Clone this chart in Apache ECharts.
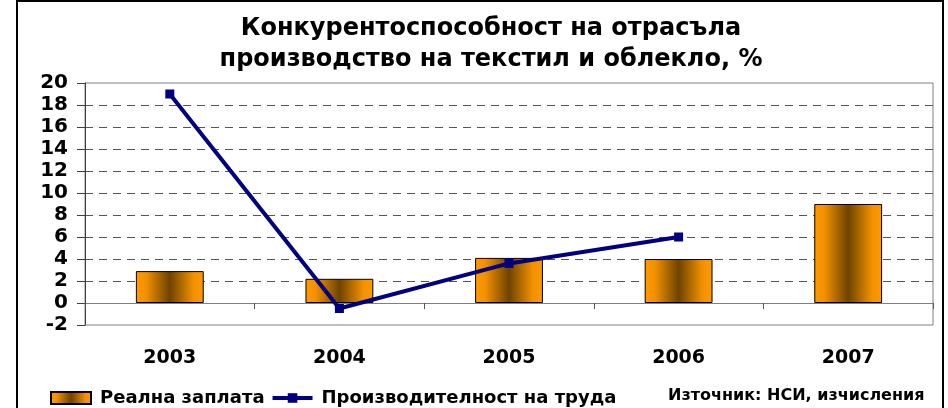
<!DOCTYPE html>
<html>
<head>
<meta charset="utf-8">
<script src="https://cdn.jsdelivr.net/npm/echarts@6/dist/echarts.min.js"></script>
<style>
  html, body { margin: 0; padding: 0; background: #fff; }
  #chart { width: 948px; height: 408px; }
</style>
</head>
<body>
<div id="chart"></div>
<script>
// values
const years = ['2003', '2004', '2005', '2006', '2007']
const realWage = [2.9, 2.2, 4.1, 4.0, 9.0]
const labourProductivity = [19.0, -0.5, 3.6, 6.0, null]

const font = '"DejaVu Sans", sans-serif'

const barColor = new echarts.graphic.LinearGradient(0, 0, 1, 0, [
  { offset: 0, color: '#FF9900' },
  { offset: 0.15, color: '#F29100' },
  { offset: 0.5, color: '#6E4300' },
  { offset: 0.85, color: '#F29100' },
  { offset: 1, color: '#FF9900' }
])

const chart = echarts.init(document.getElementById('chart'))

chart.setOption({
  animation: false,
  title: {
    text: 'Конкурентоспособност на отрасъла\nпроизводство на текстил и облекло, %',
    left: 486,
    top: 8,
    textAlign: 'center',
    textStyle: {
      fontFamily: font,
      fontWeight: 'bold',
      fontSize: 24,
      lineHeight: 31,
      color: '#000'
    }
  },
  grid: {
    left: 85,
    right: 15,
    top: 83,
    bottom: 83,
    show: true,
    borderColor: '#808080',
    borderWidth: 1
  },
  legend: {
    left: 45,
    top: 384,
    itemWidth: 40,
    itemHeight: 12,
    itemGap: 6,
    textStyle: {
      fontFamily: font,
      fontWeight: 'bold',
      fontSize: 18,
      color: '#000',
      padding: [0, 0, 0, 4]
    },
    data: [
      { name: 'Реална заплата', icon: 'rect' },
      {
        name: 'Производителност на труда',
        lineStyle: { width: 4, color: '#000080' },
        itemStyle: { color: '#000080' }
      }
    ]
  },
  xAxis: {
    type: 'category',
    data: years,
    axisLine: { onZero: true, lineStyle: { color: '#808080', width: 1 } },
    axisTick: { show: true, length: 6, lineStyle: { color: '#555' } },
    axisLabel: {
      margin: 24,
      fontFamily: font,
      fontWeight: 'bold',
      fontSize: 19,
      color: '#000'
    },
    splitLine: { show: false }
  },
  yAxis: {
    type: 'value',
    min: -2,
    max: 20,
    interval: 2,
    axisLine: { show: true, lineStyle: { color: '#404040', width: 1 } },
    axisTick: { show: true, length: 8, lineStyle: { color: '#404040' } },
    axisLabel: {
      margin: 17,
      fontFamily: font,
      fontWeight: 'bold',
      fontSize: 20,
      color: '#000'
    },
    splitLine: {
      show: true,
      showMaxLine: false,
      showMinLine: false,
      lineStyle: { color: '#555', type: [8, 6], width: 1 }
    }
  },
  series: [
    {
      name: 'Реална заплата',
      type: 'bar',
      data: realWage,
      barWidth: '40%',
      itemStyle: {
        color: barColor,
        borderColor: '#000',
        borderWidth: 1
      }
    },
    {
      name: 'Производителност на труда',
      type: 'line',
      data: labourProductivity,
      symbol: 'rect',
      symbolSize: 9,
      lineStyle: { color: '#000080', width: 4 },
      itemStyle: { color: '#000080' }
    }
  ],
  graphic: [
    {
      type: 'rect',
      shape: { x: 17, y: 1, width: 926, height: 430 },
      style: { fill: 'none', stroke: '#000', lineWidth: 2 },
      silent: true
    },
    {
      type: 'text',
      left: 668,
      top: 388,
      style: {
        text: 'Източник: НСИ, изчисления',
        font: 'bold 16px ' + font,
        fill: '#000'
      }
    }
  ]
})
</script>
</body>
</html>
